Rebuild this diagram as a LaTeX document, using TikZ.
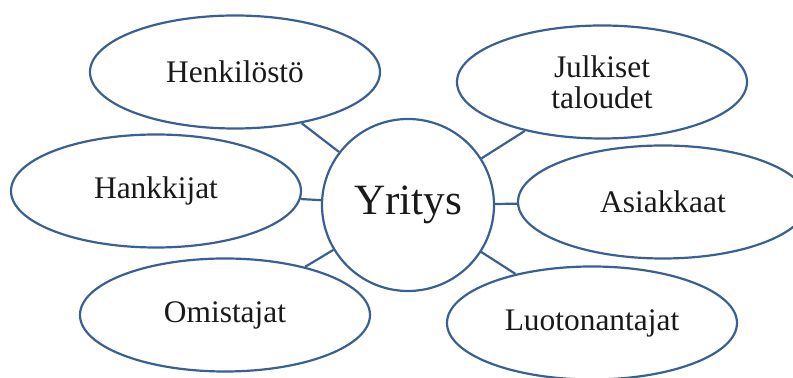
\documentclass[tikz,border=0pt]{standalone}
\usepackage{fontspec}
\setmainfont{Liberation Serif}
\usetikzlibrary{positioning,shapes.geometric}
\definecolor{rim}{HTML}{3A5F92}

\begin{document}
\begin{tikzpicture}[
    x=0.5pt, y=-0.5pt,
    every node/.style={draw=rim, line width=1.1pt, align=center, text=black!90,
      font=\fontsize{15.7}{15.5}\selectfont},
    party/.style={ellipse, minimum width=145pt, minimum height=56.5pt, inner sep=0pt},
    firm/.style={circle, minimum size=86pt, inner sep=0pt,
      font=\fontsize{21.6}{24}\selectfont}
  ]
    \useasboundingbox (0,0) rectangle (793,378);
    % Centre and the parties around it
    \node[firm]  (yritys)  at (408,205) {Yritys};
    \node[party] (henk)    at (235,72)  {Henkilöstö};
    \node[party] (julk)    at (602,82)  {Julkiset\\taloudet};
    \node[party] (hank)    at (156,191) {Hankkijat};
    \node[party] (asiak)   at (663,202) {Asiakkaat};
    \node[party] (omist)   at (225,315) {Omistajat};
    \node[party] (luoton)  at (592,323) {Luotonantajat};
    % Lines
    \draw[rim, line width=1.1pt] (yritys) -- (henk);
    \draw[rim, line width=1.1pt] (yritys) -- (julk);
    \draw[rim, line width=1.1pt] (yritys) -- (hank);
    \draw[rim, line width=1.1pt] (yritys) -- (asiak);
    \draw[rim, line width=1.1pt] (yritys) -- (omist);
    \draw[rim, line width=1.1pt] (yritys) -- (luoton);
\end{tikzpicture}
\end{document}
